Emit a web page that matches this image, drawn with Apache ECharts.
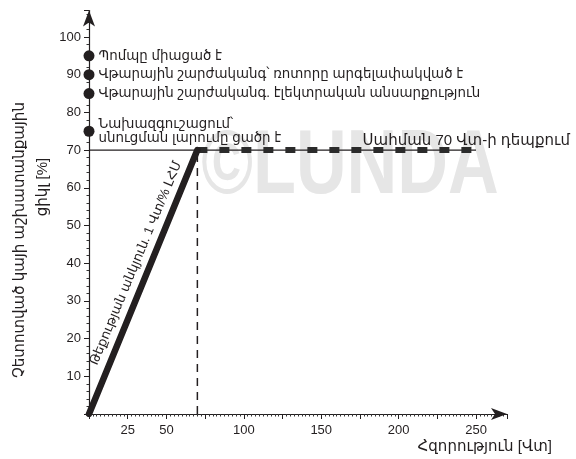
<!DOCTYPE html>
<html><head><meta charset="utf-8">
<script src="https://cdn.jsdelivr.net/npm/echarts@6/dist/echarts.min.js"></script>
<style>html,body{margin:0;padding:0;background:#fff}#c{width:576px;height:459px}</style>
</head><body><div id="c"></div>
<script>
const rampPoints = [[0, 0], [70, 70]];
const limitLine = [[0, 70], [250, 70]];
const limitDashes = [[70, 70], [250, 70]];
const cutoffLine = [[70, 0], [70, 70]];
const statusLevels = [95, 90, 85, 75];
const statusLabels = [
  'Պոմպը միացած է',
  'Վթարային շարժականգ՝ ռոտորը արգելափակված է',
  'Վթարային շարժականգ. էլեկտրական անսարքություն',
  'Նախազգուշացում՝\nսնուցման լարումը ցածր է'
];
const xTickLabels = [25, 50, 100, 150, 200, 250];
const yTickLabels = [10, 20, 30, 40, 50, 60, 70, 80, 90, 100];
const xTitle = 'Հզորություն [Վտ]';
const yTitle1 = 'Չետոտված կայի աշխատանքային';
const yTitle2 = 'ցիկլ [%]';
const limitText = 'Սահման 70 Վտ-ի դեպքում';
const slopeText = 'Թեքության անկյուն. 1 Վտ/% ԼՀՄ';
const watermark = '©LUNDA';

const FONT = 'Liberation Sans, Arial, DejaVu Sans, sans-serif';
const INK = '#231f20';

const chart = echarts.init(document.getElementById('c'), null, {renderer: 'canvas'});
chart.setOption({
  animation: false,
  textStyle: {fontFamily: FONT},
  grid: {left: 89, right: 69, top: 10.6, bottom: 45, containLabel: false},
  xAxis: {
    type: 'value', min: 0, max: 270, interval: 25,
    axisLine: {show: true, symbol: ['none', 'arrow'], symbolSize: [9, 16], lineStyle: {color: INK, width: 1.2}},
    axisTick: {show: true, length: 5, lineStyle: {color: INK}, interval: 0},
    minorTick: {show: true, splitNumber: 10, length: 2.5, lineStyle: {color: '#333'}},
    axisLabel: {color: INK, fontSize: 13, margin: 10,
      formatter: v => xTickLabels.includes(v) ? String(v) : ''},
    splitLine: {show: false}
  },
  yAxis: {
    type: 'value', min: 0, max: 107, interval: 10,
    axisLine: {show: true, symbol: ['none', 'arrow'], symbolSize: [9, 16], lineStyle: {color: INK, width: 1.2}},
    axisTick: {show: true, length: 5, lineStyle: {color: INK}},
    minorTick: {show: true, splitNumber: 5, length: 2.5, lineStyle: {color: '#333'}},
    axisLabel: {color: INK, fontSize: 13, margin: 8,
      formatter: v => yTickLabels.includes(v) ? String(v) : ''},
    splitLine: {show: false}
  },
  series: [
    {type: 'line', data: limitLine, symbol: 'none', lineStyle: {color: INK, width: 1.2}, z: 3},
    {type: 'line', data: limitDashes, symbol: 'none', lineStyle: {color: '#2b2b2b', width: 6, type: [10, 12]}, z: 4},
    {type: 'line', data: cutoffLine, symbol: 'none', lineStyle: {color: INK, width: 1.5, type: [8, 6]}, z: 3},
    {type: 'line', data: rampPoints, symbol: 'none', lineStyle: {color: INK, width: 6.5, cap: 'round'}, z: 5},
    {type: 'scatter', symbolSize: 11, itemStyle: {color: INK, opacity: 1}, z: 6,
      data: statusLevels.map((y, i) => ({value: [0, y], label: {formatter: statusLabels[i]}})),
      label: {show: true, position: 'right', distance: 4, color: INK, fontSize: 13.4, lineHeight: 14, fontFamily: FONT}}
  ],
  graphic: [
    {type: 'text', z: -10, x: 350, y: 168, scaleX: 0.78, style: {text: watermark, font: 'bold 90px ' + FONT, fill: '#e6e6e6', align: 'center', verticalAlign: 'middle'}},
    {type: 'text', x: 570, y: 141, style: {text: limitText, font: '15px ' + FONT, fill: INK, align: 'right', verticalAlign: 'middle'}},
    {type: 'text', x: 136, y: 263, rotation: Math.atan2(264, 110), style: {text: slopeText, font: '13px ' + FONT, fill: INK, align: 'center', verticalAlign: 'middle'}},
    {type: 'text', x: 552, y: 447, style: {text: xTitle, font: '15px ' + FONT, fill: INK, align: 'right', verticalAlign: 'middle'}},
    {type: 'text', x: 20, y: 240, rotation: Math.PI / 2, style: {text: yTitle1, font: '15px ' + FONT, fill: INK, align: 'center', verticalAlign: 'middle'}},
    {type: 'text', x: 43, y: 187, rotation: Math.PI / 2, style: {text: yTitle2, font: '15px ' + FONT, fill: INK, align: 'center', verticalAlign: 'middle'}}
  ]
});
</script></body></html>
